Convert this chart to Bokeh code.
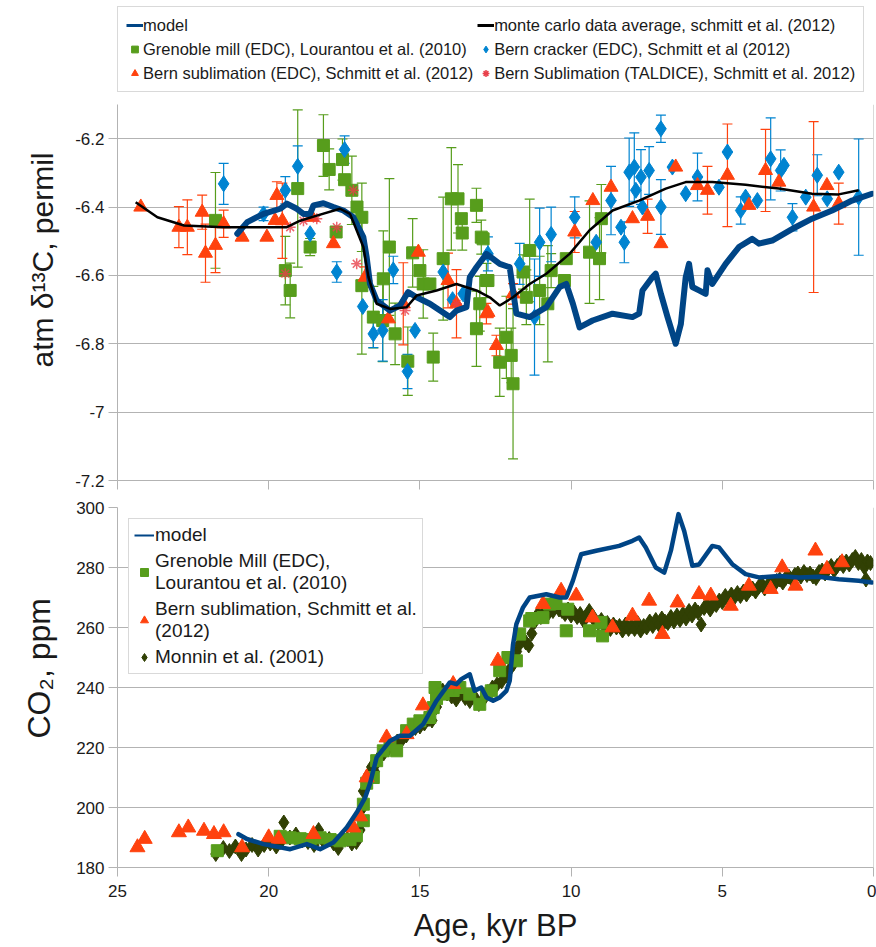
from bokeh.plotting import figure
from bokeh.models import (ColumnDataSource, Whisker, TeeHead, Legend, LegendItem,
                          Range1d, FixedTicker, CustomJSTickFormatter, Title, Span)
from bokeh.layouts import column
from bokeh.embed import file_html
from bokeh.resources import INLINE

FONT = "Liberation Sans"

# ---------------- axis ticks ----------------
x_ticks = [25, 20, 15, 10, 5, 0]
d13c_ticks = [-7.2, -7.0, -6.8, -6.6, -6.4, -6.2]
co2_ticks = [180, 200, 220, 240, 260, 280, 300]

# ---------------- top panel: atm d13C ----------------
model_d13c_age = [21.04, 20.71, 20.17, 19.62, 19.40, 19.07, 18.85, 18.63, 18.52, 18.19,
                  17.86, 17.53, 17.20, 16.87, 16.76, 16.65, 16.43, 15.99, 15.66, 15.39,
                  15.11, 14.67, 14.01, 13.79, 13.46, 13.35, 13.13, 12.80, 12.36, 12.03,
                  11.92, 11.81, 11.37, 10.82, 10.38, 10.16, 9.94, 9.72, 9.29, 8.63,
                  7.97, 7.75, 7.64, 7.31, 7.20, 7.03, 6.81, 6.54, 6.37, 6.21,
                  6.10, 5.99, 5.77, 5.55, 5.49, 5.33, 4.89, 4.45, 4.01, 3.79,
                  3.35, 2.58, 2.03, 1.37, 0.71, 0.05]
model_d13c = [-6.478, -6.444, -6.420, -6.405, -6.390, -6.405, -6.420, -6.420, -6.395, -6.389,
              -6.400, -6.410, -6.430, -6.488, -6.547, -6.625, -6.673, -6.703, -6.688, -6.649,
              -6.664, -6.683, -6.722, -6.703, -6.693, -6.605, -6.576, -6.537, -6.566, -6.576,
              -6.644, -6.712, -6.722, -6.693, -6.634, -6.625, -6.683, -6.752, -6.732, -6.712,
              -6.722, -6.712, -6.644, -6.605, -6.595, -6.654, -6.722, -6.800, -6.742, -6.605,
              -6.566, -6.634, -6.644, -6.654, -6.585, -6.625, -6.566, -6.517, -6.493, -6.507,
              -6.498, -6.459, -6.434, -6.410, -6.381, -6.361]

mc_age = [24.4, 23.68, 22.8, 21.49, 20.17, 19.4, 18.96, 18.41, 17.64, 17.31,
          16.87, 16.7, 16.43, 15.99, 15.44, 15.11, 14.45, 13.79, 13.13, 12.69,
          12.36, 11.92, 11.37, 10.82, 10.05, 9.39, 8.63, 7.75, 6.87, 6.21,
          5.33, 4.23, 3.13, 2.03, 1.15, 0.49]
mc_d13c = [-6.386, -6.43, -6.454, -6.459, -6.459, -6.459, -6.44, -6.425, -6.405, -6.42,
           -6.517, -6.605, -6.683, -6.698, -6.693, -6.659, -6.644, -6.625, -6.644, -6.664,
           -6.688, -6.664, -6.625, -6.595, -6.537, -6.468, -6.41, -6.381, -6.346, -6.327,
           -6.327, -6.335, -6.346, -6.361, -6.363, -6.351]

gren_d13c_age = [21.76, 19.45, 19.29, 19.04, 18.63, 18.19, 18.0, 17.77, 17.56, 17.49,
                 17.25, 17.08, 16.92, 16.92, 16.54, 16.23, 16.21, 16.01, 15.82, 15.4,
                 15.24, 15.0, 14.89, 14.67, 14.56, 14.23, 13.96, 13.74, 13.63, 13.6,
                 13.13, 12.97, 13.02, 13.13, 12.8, 12.91, 12.75, 12.36, 12.14, 11.98,
                 11.92, 11.59, 11.37, 11.48, 11.04, 10.77, 10.66, 10.22, 10.16, 9.39,
                 9.06, 9.0]
gren_d13c = [-6.439, -6.586, -6.644, -6.346, -6.517, -6.22, -6.29, -6.473, -6.261, -6.32,
             -6.351, -6.40, -6.43, -6.63, -6.722, -6.732, -6.61, -6.517, -6.771, -6.851,
             -6.534, -6.586, -6.625, -6.625, -6.839, -6.551, -6.376, -6.376, -6.434, -6.476,
             -6.395, -6.488, -6.683, -6.756, -6.615, -6.493, -6.615, -6.854, -6.781, -6.834,
             -6.917, -6.59, -6.527, -6.664, -6.644, -6.683, -6.586, -6.615, -6.551, -6.532,
             -6.551, -6.434]
gren_d13c_err = [0.14, 0.10, 0.08, 0.23, 0.025, 0.09, 0.06, 0.0, 0.06, 0.0,
                 0.10, 0.0, 0.10, 0.20, 0.09, 0.12, 0.14, 0.20, 0.09, 0.10,
                 0.10, 0.0, 0.10, 0.0, 0.07, 0.18, 0.15, 0.10, 0.0, 0.05,
                 0.05, 0.05, 0.08, 0.11, 0.05, 0.0, 0.0, 0.10, 0.12, 0.08,
                 0.22, 0.05, 0.15, 0.08, 0.10, 0.17, 0.05, 0.0, 0.0, 0.15,
                 0.12, 0.10]

crack_age = [21.49, 20.17, 19.45, 19.04, 18.63, 17.75, 17.49, 16.89, 16.54, 16.23,
             15.88, 15.41, 15.16, 14.23, 13.92, 13.57, 12.75, 11.7, 11.21, 11.04,
             10.66, 9.88, 9.17, 8.68, 8.35, 8.24, 8.08, 7.91, 7.86, 7.69,
             7.64, 7.42, 7.03, 7.03, 6.65, 6.21, 5.82, 5.11, 4.83, 4.39,
             4.23, 3.84, 3.4, 3.07, 2.96, 2.68, 2.24, 1.86, 1.53, 1.15,
             0.49]
crack_d13c = [-6.332, -6.42, -6.351, -6.281, -6.478, -6.59, -6.232, -6.691, -6.771, -6.761,
              -6.584, -6.881, -6.761, -6.59, -6.671, -6.654, -6.537, -6.566, -6.722, -6.503,
              -6.48, -6.43, -6.503, -6.381, -6.459, -6.503, -6.298, -6.283, -6.351, -6.312,
              -6.40, -6.293, -6.171, -6.40, -6.283, -6.361, -6.312, -6.342, -6.239, -6.41,
              -6.371, -6.381, -6.259, -6.293, -6.278, -6.43, -6.371, -6.307, -6.376, -6.298,
              -6.371]
crack_err = [0.06, 0.02, 0.04, 0.06, 0.0, 0.03, 0.04, 0.0, 0.04, 0.09,
             0.04, 0.05, 0.0, 0.0, 0.0, 0.0, 0.05, 0.06, 0.17, 0.10,
             0.08, 0.06, 0.0, 0.10, 0.0, 0.06, 0.10, 0.10, 0.0, 0.08,
             0.0, 0.07, 0.04, 0.08, 0.0, 0.0, 0.07, 0.0, 0.0, 0.04,
             0.0, 0.0, 0.12, 0.06, 0.0, 0.04, 0.0, 0.06, 0.0, 0.0,
             0.17]

subl_d13c_age = [24.23, 22.97, 22.69, 22.2, 22.09, 21.76, 21.49, 20.88, 20.06, 19.79,
                 19.73, 19.55, 18.57, 17.86, 16.81, 16.04, 15.55, 15.05, 14.07, 13.79,
                 12.8, 12.75, 12.47, 11.92, 9.88, 9.28, 8.68, 7.97, 7.47, 7.03,
                 6.54, 5.82, 5.49, 4.83, 4.12, 3.57, 3.13, 1.98, 1.54, 1.15]
subl_d13c = [-6.40, -6.459, -6.459, -6.415, -6.535, -6.512, -6.449, -6.488, -6.488, -6.439,
             -6.366, -6.44, -6.43, -6.507, -6.605, -6.727, -6.683, -6.532, -6.615, -6.683,
             -6.712, -6.708, -6.805, -6.654, -6.473, -6.381, -6.342, -6.434, -6.427, -6.507,
             -6.283, -6.337, -6.351, -6.307, -6.395, -6.293, -6.327, -6.40, -6.337, -6.39]
subl_d13c_err = [0.0, 0.06, 0.08, 0.05, 0.085, 0.08, 0.04, 0.0, 0.0, 0.0,
                 0.04, 0.11, 0.0, 0.0, 0.03, 0.0, 0.12, 0.0, 0.08, 0.10,
                 0.03, 0.0, 0.03, 0.03, 0.06, 0.0, 0.0, 0.0, 0.05, 0.0,
                 0.0, 0.0, 0.07, 0.15, 0.0, 0.12, 0.0, 0.25, 0.0, 0.06]

tald_age = [19.29, 19.45, 18.85, 18.41, 17.75, 17.2, 17.09, 15.49, 13.79]
tald_d13c = [-6.459, -6.595, -6.44, -6.434, -6.459, -6.351, -6.566, -6.703, -6.683]

# ---------------- bottom panel: CO2 ----------------
model_co2_age = [21.0, 20.72, 20.17, 19.29, 18.74, 18.3, 17.86, 17.42, 17.09, 16.81,
                 16.65, 16.43, 15.99, 15.66, 15.33, 14.89, 14.45, 14.01, 13.79, 13.63,
                 13.35, 13.19, 12.97, 12.8, 12.58, 12.36, 12.14, 12.03, 11.92, 11.81,
                 11.59, 11.37, 10.82, 10.38, 10.16, 9.94, 9.67, 9.17, 8.41, 7.97,
                 7.75, 7.53, 7.2, 6.92, 6.7, 6.45, 6.26, 5.99, 5.77, 5.33,
                 5.11, 4.67, 4.23, 3.79, 3.13, 2.47, 1.81, 1.15, 0.49, 0.05]
model_co2 = [191.1, 189.5, 187.8, 186.1, 187.8, 186.1, 188.3, 193.3, 198.3, 203.3,
             208.0, 216.7, 222.2, 223.9, 223.9, 227.8, 235.6, 241.7, 241.1, 242.8,
             244.4, 238.9, 240.0, 236.7, 235.6, 236.7, 238.9, 242.2, 254.4, 261.1,
             266.7, 270.0, 271.1, 270.0, 270.0, 275.6, 284.4, 285.6, 287.2, 288.9,
             290.0, 286.7, 280.0, 278.3, 285.6, 297.8, 292.2, 280.6, 281.0, 287.2,
             286.7, 281.1, 277.8, 276.7, 277.2, 276.7, 276.9, 276.1, 275.6, 275.0]

gren_co2_age = [21.7, 19.62, 19.29, 18.96, 18.63, 18.3, 17.97, 17.64, 17.31, 17.1,
                16.87, 16.87, 16.76, 16.54, 16.43, 16.21, 15.99, 15.77, 15.44, 15.22,
                15.0, 14.67, 14.56, 14.5, 14.45, 14.23, 13.9, 13.68, 13.35, 13.02,
                12.8, 12.64, 12.36, 12.09, 11.81, 11.7, 11.37, 11.3, 10.93, 10.71,
                10.5, 10.11, 10.16, 9.39, 9.01, 8.96]
gren_co2 = [185.6, 190.4, 189.9, 189.6, 189.3, 189.9, 189.3, 188.9, 189.3, 190.6,
            195.6, 201.1, 208.1, 210.0, 215.6, 218.9, 221.1, 218.9, 225.6, 227.8,
            228.9, 230.0, 233.3, 240.0, 236.3, 237.8, 239.0, 240.0, 237.8, 234.4,
            237.8, 238.9, 245.6, 250.0, 248.9, 257.8, 262.2, 263.0, 263.3, 267.8,
            268.0, 266.1, 258.9, 258.9, 261.7, 257.2]

subl_co2_age = [24.34, 24.1, 22.97, 22.66, 22.14, 21.81, 21.49, 20.88, 20.0, 19.67,
                18.52, 17.2, 16.98, 16.76, 16.1, 15.44, 14.9, 13.9, 12.42, 10.93,
                10.33, 9.83, 9.29, 8.63, 7.97, 7.42, 6.98, 6.48, 5.77, 5.38,
                4.72, 4.12, 3.4, 3.02, 2.58, 1.92, 1.54, 1.04]
subl_co2 = [186.7, 189.5, 191.7, 193.3, 192.2, 191.1, 191.7, 186.7, 190.0, 189.5,
            191.1, 193.3, 197.0, 210.0, 223.3, 224.4, 234.0, 241.1, 248.9, 267.8,
            272.2, 270.6, 263.3, 260.0, 263.9, 268.9, 257.8, 268.3, 271.1, 270.6,
            267.2, 273.9, 272.8, 280.0, 273.9, 285.6, 279.5, 281.7]

monnin_age = [21.75, 21.5, 21.3, 21.1, 20.9, 20.75, 20.55, 20.35, 20.15, 19.95,
              19.75, 19.6, 19.5, 19.3, 19.1, 18.9, 18.7, 18.5, 18.35, 18.2,
              18.0, 17.85, 17.7, 17.55, 17.4, 17.25, 17.1, 16.98, 16.92, 16.87,
              16.8, 16.7, 16.6, 16.5, 16.42, 16.3, 16.2, 16.05, 15.9, 15.75,
              15.6, 15.45, 15.3, 15.15, 15.0, 14.85, 14.7, 14.6, 14.45, 14.35,
              14.25, 14.1, 13.95, 13.8, 13.65, 13.5, 13.35, 13.2, 13.05, 12.9,
              12.75, 12.6, 12.45, 12.3, 12.15, 12.0, 11.9, 11.8, 11.7, 11.6,
              11.5, 11.4, 11.3, 11.2, 11.1, 11.0, 10.9, 10.8, 10.7, 10.6,
              10.5, 10.4, 10.3, 10.2, 10.1, 10.0, 9.9, 9.8, 9.7, 9.6,
              9.5, 9.4, 9.3, 9.2, 9.1, 9.0, 8.9, 8.8, 8.7, 8.6,
              8.5, 8.4, 8.3, 8.2, 8.1, 8.0, 7.9, 7.8, 7.7, 7.6,
              7.5, 7.4, 7.3, 7.2, 7.1, 7.0, 6.9, 6.8, 6.7, 6.6,
              6.5, 6.4, 6.3, 6.2, 6.1, 6.0, 5.9, 5.8, 5.7, 5.6,
              5.5, 5.4, 5.3, 5.2, 5.1, 5.0, 4.9, 4.8, 4.7, 4.6,
              4.5, 4.4, 4.3, 4.2, 4.1, 4.0, 3.9, 3.8, 3.7, 3.6,
              3.5, 3.4, 3.3, 3.2, 3.1, 3.0, 2.9, 2.8, 2.7, 2.6,
              2.5, 2.4, 2.3, 2.2, 2.1, 2.0, 1.9, 1.8, 1.7, 1.6,
              1.5, 1.4, 1.3, 1.2, 1.1, 1.0, 0.9, 0.8, 0.7, 0.6,
              0.5, 0.4, 0.3, 0.25, 0.2, 0.1]
monnin_co2 = [184.5, 186.5, 185.5, 187.0, 184.5, 186.0, 187.5, 186.0, 187.5, 188.0,
              187.0, 188.5, 195.0, 190.0, 191.0, 189.0, 188.5, 187.5, 192.5, 189.0,
              189.5, 188.0, 186.5, 190.0, 189.5, 188.0, 188.5, 192.5, 199.5, 205.5,
              209.0, 211.0, 213.5, 212.0, 215.0, 217.5, 218.0, 219.5, 221.0, 222.0,
              222.5, 224.0, 225.5, 226.5, 227.0, 228.0, 229.5, 229.0, 233.5, 237.0,
              239.0, 238.0, 237.0, 236.0, 238.5, 236.5, 235.5, 237.0, 234.5, 236.0,
              238.5, 240.0, 241.0, 242.0, 244.0, 246.5, 248.0, 252.0, 254.5, 256.5,
              255.0, 254.0, 258.0, 262.0, 264.5, 263.5, 265.0, 264.0, 266.5, 265.5,
              267.0, 266.0, 265.5, 264.5, 266.0, 264.0, 265.0, 263.5, 264.5, 262.5,
              263.5, 265.5, 264.0, 262.0, 261.5, 262.5, 260.5, 261.5, 259.5, 261.0,
              260.0, 260.5, 259.0, 261.0, 259.5, 260.5, 259.5, 261.5, 259.0, 260.5,
              260.0, 262.0, 260.5, 262.5, 261.0, 263.0, 262.0, 261.5, 263.5, 262.0,
              264.0, 262.5, 264.5, 263.0, 265.5, 264.0, 266.0, 265.0, 261.0, 266.5,
              267.5, 266.0, 268.0, 267.5, 269.0, 268.5, 270.5, 269.5, 271.0, 270.0,
              271.5, 270.5, 272.0, 271.0, 272.5, 273.0, 272.0, 273.5, 274.5, 273.0,
              274.0, 275.0, 274.0, 275.5, 276.0, 275.0, 276.5, 277.0, 276.0, 277.5,
              278.0, 277.0, 278.5, 277.5, 278.0, 277.0, 276.5, 278.5, 279.0, 278.0,
              279.5, 280.5, 279.0, 280.5, 281.5, 280.5, 282.0, 281.0, 282.5, 283.5,
              281.5, 282.5, 280.0, 276.0, 282.0, 281.5]

# ---------------- colours ----------------
C_MODEL = "#004586"
C_GREN = "#579d1c"
C_CRACK = "#0084d1"
C_SUBL = "#ff420e"
C_TALD = "#e8404a"
C_MONNIN = "#314004"
C_GRID = "#b3b3b3"
C_TEXT = "#1a1a1a"

W = 876


def style(p, show_x_labels):
    p.outline_line_color = None
    p.background_fill_color = "white"
    p.border_fill_color = "white"
    p.xgrid.visible = False
    p.ygrid.grid_line_color = C_GRID
    p.ygrid.grid_line_width = 1
    for ax in (p.xaxis[0], p.yaxis[0]):
        ax.axis_line_color = C_GRID
        ax.major_tick_line_color = C_GRID
        ax.minor_tick_line_color = None
        ax.major_tick_in = 0
        ax.major_label_text_font = FONT
        ax.major_label_text_font_size = "17px"
        ax.major_label_text_color = C_TEXT
    p.xaxis.major_tick_out = 9
    p.yaxis.major_tick_out = 9
    p.yaxis.major_label_standoff = 4
    p.xaxis.ticker = FixedTicker(ticks=x_ticks)
    if not show_x_labels:
        p.xaxis.major_label_text_font_size = "0px"
        p.xaxis.major_label_text_color = None
        p.xaxis.major_label_standoff = 0
    p.add_layout(Span(location=0, dimension="height", line_color=C_GRID, line_width=1))


def add_err(p, ages, vals, errs, color):
    xs, lo, hi = [], [], []
    for a, v, e in zip(ages, vals, errs):
        if e > 0:
            xs.append(a)
            lo.append(v - e)
            hi.append(v + e)
    src = ColumnDataSource(dict(x=xs, lower=lo, upper=hi))
    p.add_layout(Whisker(source=src, base="x", upper="upper", lower="lower",
                         line_color=color, line_width=1.2,
                         upper_head=TeeHead(size=10, line_color=color, line_width=1.2),
                         lower_head=TeeHead(size=10, line_color=color, line_width=1.2)))


# ================= LEGEND STRIP (legend of the top panel) =================
# the series are re-plotted here only as legend proxies; they fall outside this
# strip's (0..1) ranges, so nothing but the legend is visible.
pl = figure(width=W, height=104, x_range=Range1d(0, 1), y_range=Range1d(0, 1),
            output_backend="svg", toolbar_location=None,
            x_axis_location=None, y_axis_location=None,
            min_border_left=117, min_border_right=3, min_border_top=0, min_border_bottom=0)
pl.outline_line_color = None
pl.xgrid.visible = False
pl.ygrid.visible = False
lg_model = pl.line(model_d13c_age, model_d13c, line_color=C_MODEL, line_width=3)
lg_mc = pl.line(mc_age, mc_d13c, line_color="black", line_width=3)
lg_gren = pl.scatter(gren_d13c_age, gren_d13c, marker="square", color=C_GREN)
lg_crack = pl.scatter(crack_age, crack_d13c, marker="diamond", color=C_CRACK)
lg_subl = pl.scatter(subl_d13c_age, subl_d13c, marker="triangle", color=C_SUBL)
lg_tald = pl.scatter(tald_age, tald_d13c, marker="asterisk", line_color=C_TALD, line_width=1.5)

leg1 = Legend(items=[
    LegendItem(label="model", renderers=[lg_model]),
    LegendItem(label="monte carlo data average, schmitt et al. (2012)", renderers=[lg_mc]),
    LegendItem(label="Grenoble mill (EDC), Lourantou et al. (2010)", renderers=[lg_gren]),
    LegendItem(label="Bern cracker (EDC), Schmitt et al (2012)", renderers=[lg_crack]),
    LegendItem(label="Bern sublimation (EDC), Schmitt et al. (2012)", renderers=[lg_subl]),
    LegendItem(label="Bern Sublimation (TALDICE), Schmitt et al. 2012)", renderers=[lg_tald]),
], location=(0, 12), orientation="horizontal", ncols=2,
    label_text_font=FONT, label_text_font_size="16.5px", label_text_color=C_TEXT,
    glyph_width=17, glyph_height=20, label_height=20, label_standoff=0,
    spacing=4, padding=8, margin=0,
    border_line_color=C_GRID, border_line_width=1, background_fill_alpha=1)
pl.add_layout(leg1)

# ================= TOP FIGURE =================
p1 = figure(width=W, height=389, x_range=Range1d(25, 0), y_range=Range1d(-7.2, -6.1),
            output_backend="svg", toolbar_location=None,
            min_border_left=117, min_border_right=3, min_border_top=0, min_border_bottom=13)
style(p1, False)
p1.yaxis.ticker = FixedTicker(ticks=d13c_ticks)
p1.yaxis.formatter = CustomJSTickFormatter(code="return String(Math.round(tick*10)/10)")

add_err(p1, gren_d13c_age, gren_d13c, gren_d13c_err, C_GREN)
add_err(p1, crack_age, crack_d13c, crack_err, C_CRACK)
add_err(p1, subl_d13c_age, subl_d13c, subl_d13c_err, C_SUBL)

p1.scatter(gren_d13c_age, gren_d13c, marker="square", size=12, color=C_GREN)
p1.scatter(crack_age, crack_d13c, marker="diamond", size=16, color=C_CRACK)
p1.scatter(subl_d13c_age, subl_d13c, marker="triangle", size=14, color=C_SUBL)
p1.scatter(tald_age, tald_d13c, marker="asterisk", size=11, line_color=C_TALD,
           line_width=1.5, line_alpha=0.8)
p1.line(model_d13c_age, model_d13c, line_color=C_MODEL, line_width=6,
        line_join="round", line_cap="round")
p1.line(mc_age, mc_d13c, line_color="black", line_width=2.5)

p1.add_layout(Title(text="atm δ¹³C, permil", align="left", offset=113, standoff=24,
                    vertical_align="top",
                    text_font=FONT, text_font_size="30px", text_font_style="normal",
                    text_color=C_TEXT), "left")

# ================= BOTTOM FIGURE =================
p2 = figure(width=W, height=454, x_range=Range1d(25, 0), y_range=Range1d(180, 300),
            output_backend="svg", toolbar_location=None,
            min_border_left=117, min_border_right=3, min_border_top=14, min_border_bottom=80)
style(p2, True)
p2.yaxis.ticker = FixedTicker(ticks=co2_ticks)
p2.xaxis.major_label_standoff = 8
p2.xaxis.axis_label = "Age, kyr BP"
p2.xaxis.axis_label_text_font = FONT
p2.xaxis.axis_label_text_font_size = "31px"
p2.xaxis.axis_label_text_font_style = "normal"
p2.xaxis.axis_label_text_color = C_TEXT
p2.xaxis.axis_label_standoff = 8

r_mon = p2.scatter(monnin_age, monnin_co2, marker="diamond", size=15, color=C_MONNIN)
r_gren2 = p2.scatter(gren_co2_age, gren_co2, marker="square", size=12, color=C_GREN)
r_subl2 = p2.scatter(subl_co2_age, subl_co2, marker="triangle", size=15, color=C_SUBL)
p2.line(model_co2_age, model_co2, line_color=C_MODEL, line_width=4.5,
        line_join="round", line_cap="round")
# thin twin of the model curve (hidden under the thick one) used for the legend swatch
lg_model2 = p2.line(model_co2_age, model_co2, line_color=C_MODEL, line_width=2)

leg2 = Legend(items=[
    LegendItem(label="model", renderers=[lg_model2]),
    LegendItem(label="Grenoble Mill (EDC),\nLourantou et al. (2010)", renderers=[r_gren2]),
    LegendItem(label="Bern sublimation, Schmitt et al.\n(2012)", renderers=[r_subl2]),
    LegendItem(label="Monnin et al. (2001)", renderers=[r_mon]),
], location=(11, 193),
    label_text_font=FONT, label_text_font_size="19px", label_text_color=C_TEXT,
    glyph_width=20, glyph_height=22, label_height=20, label_standoff=1,
    spacing=4, padding=5, margin=0,
    border_line_color=C_GRID, border_line_width=1.5, background_fill_alpha=1)
p2.add_layout(leg2)

p2.add_layout(Title(text="CO₂, ppm", align="left", offset=129, standoff=30,
                    vertical_align="top",
                    text_font=FONT, text_font_size="32px", text_font_style="normal",
                    text_color=C_TEXT), "left")

layout = column(pl, p1, p2, spacing=0)
open("out.html", "w").write(file_html(layout, INLINE))
